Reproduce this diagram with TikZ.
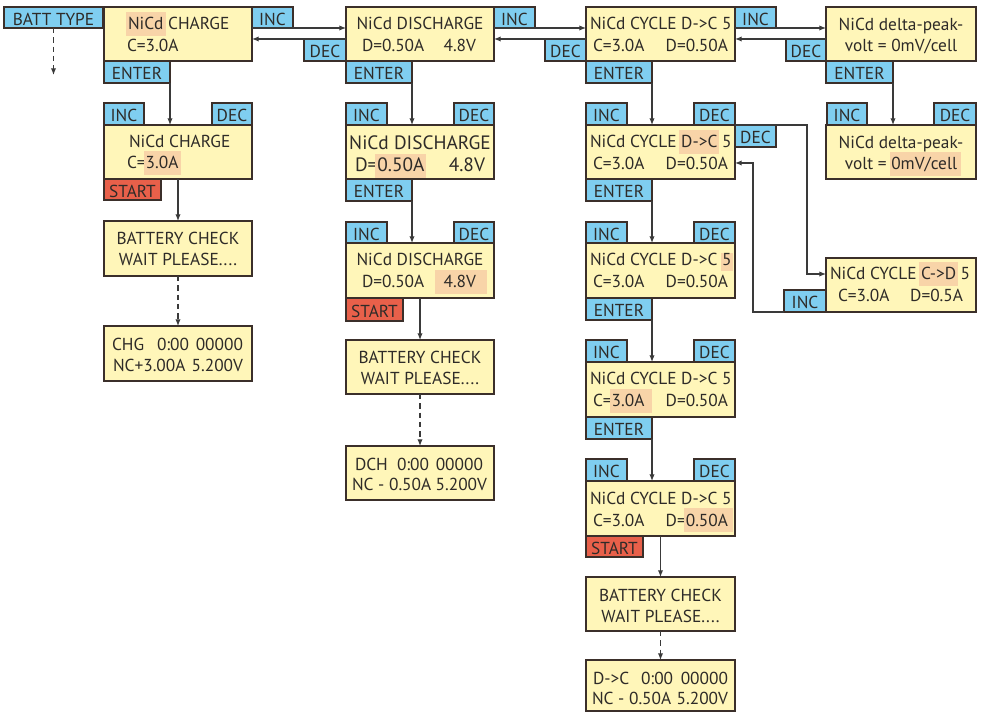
\documentclass[tikz,border=0pt]{standalone}
\usepackage{fontspec}
\setmainfont{PT Sans}
\usetikzlibrary{arrows.meta,calc}
\definecolor{boxfill}{HTML}{FFF6B9}
\definecolor{tabc}{HTML}{7FCEF0}
\definecolor{startc}{HTML}{E8604A}
\definecolor{hlc}{HTML}{F8D4A8}
\definecolor{bord}{HTML}{3B2F2A}
\definecolor{txtc}{HTML}{2E2B28}
\definecolor{linec}{HTML}{3A3A3A}
\newcommand\fs{\fontsize{13}{15}\selectfont}
\newcommand\fsb{\fontsize{14.5}{17}\selectfont}
\newcommand\hlx[3]{\kern-#1\relax{\setlength{\fboxsep}{0pt}\colorbox{hlc}{\rule[-4.5pt]{0pt}{18pt}\kern#1\relax #3\kern#2\relax}}\kern-#2\relax}
\newcommand\hls[1]{\kern-1pt{\setlength{\fboxsep}{0pt}\colorbox{hlc}{\rule[-3.5pt]{0pt}{13pt}\kern1pt #1\kern1pt}}\kern-1pt}
\tikzset{
  box/.style={draw=bord, fill=boxfill, line width=1pt, inner sep=0pt, outer sep=0pt},
  tab/.style={draw=bord, fill=tabc, line width=1pt, inner sep=0pt, outer sep=0pt, text=txtc, font=\fs, text height=11.5pt, text depth=0pt},
  startt/.style={tab, fill=startc},
  tl/.style={inner sep=0pt, outer sep=0pt, text=txtc, font=\fs, anchor=base west},
  tcn/.style={tl, anchor=base},
  tr/.style={tl, anchor=base east},
  conn/.style={draw=linec, line width=0.9pt, -{Latex[length=5pt,width=4pt]}},
  dconn/.style={conn, dash pattern=on 4pt off 3pt},
}
\newcommand\BX[5]{\node[box, anchor=north west, minimum width={(#4-#2)*0.75pt}, minimum height={(#5-#3)*0.75pt}] (#1) at (#2,#3) {};}
\newcommand\TB[7][tab]{\node[#1, anchor=north west, minimum width={(#5-#3)*0.75pt}, minimum height={(#6-#4)*0.75pt}] (#2) at (#3,#4) {#7};}
\newcommand\TL[4]{\node[tl] (#1) at (#2,#3) {#4};}
\newcommand\TC[4]{\node[tcn] (#1) at (#2,#3) {#4};}
\newcommand\TR[4]{\node[tr] (#1) at (#2,#3) {#4};}
\begin{document}
\begin{tikzpicture}[x=0.75pt,y=-0.75pt]
\useasboundingbox[fill=white] (0,0) rectangle (981,712);
% boxes
\BX{c1a}{104}{7}{252}{61}
\BX{c1b}{104}{125}{252}{179}
\BX{c1c}{104}{221}{252}{276}
\BX{c1d}{104}{326}{252}{381}
\BX{c2a}{346}{7}{494}{61}
\BX{c2b}{346}{125}{494}{179}
\BX{c2c}{346}{243}{494}{298}
\BX{c2d}{346}{340}{494}{394}
\BX{c2e}{346}{446}{494}{500}
\BX{c3a}{586}{7}{735}{61}
\BX{c3b}{586}{125}{735}{179}
\BX{c3c}{586}{243}{735}{298}
\BX{c3d}{586}{362}{735}{417}
\BX{c3e}{586}{481}{735}{536}
\BX{c3f}{586}{577}{735}{631}
\BX{c3g}{586}{660}{735}{711}
\BX{c4a}{826}{7}{976}{61}
\BX{c4b}{826}{125}{976}{179}
\BX{c4c}{826}{258}{976}{312}
% tabs
\TB{bt}{4}{7}{103}{28}{BATT TYPE}
\TB{i1}{252}{7}{293}{28}{INC}
\TB{i2}{494}{7}{535}{28}{INC}
\TB{i3}{735}{7}{776}{28}{INC}
\TB{d1}{304}{39}{346}{61}{DEC}
\TB{d2}{545}{39}{586}{61}{DEC}
\TB{d3}{786}{39}{826}{61}{DEC}
\TB{e1}{104}{61}{170}{83}{ENTER}
\TB{e2}{346}{61}{412}{83}{ENTER}
\TB{e2b}{346}{179}{412}{201}{ENTER}
\TB{e3}{586}{61}{652}{83}{ENTER}
\TB{e3b}{586}{179}{652}{201}{ENTER}
\TB{e3c}{586}{298}{652}{320}{ENTER}
\TB{e3d}{586}{417}{652}{439}{ENTER}
\TB{e4}{826}{61}{893}{83}{ENTER}
\TB{i1b}{104}{103}{144}{125}{INC}
\TB{d1b}{212}{103}{252}{125}{DEC}
\TB{i2b}{346}{103}{387}{125}{INC}
\TB{d2b}{454}{103}{494}{125}{DEC}
\TB{i2c}{346}{222}{387}{243}{INC}
\TB{d2c}{454}{222}{494}{243}{DEC}
\TB{i3b}{586}{103}{627}{125}{INC}
\TB{d3b}{694}{103}{735}{125}{DEC}
\TB{i3c}{586}{222}{627}{243}{INC}
\TB{d3c}{694}{222}{735}{243}{DEC}
\TB{i3d}{586}{340}{627}{362}{INC}
\TB{d3d}{694}{340}{735}{362}{DEC}
\TB{i3e}{586}{459}{627}{481}{INC}
\TB{d3e}{694}{459}{735}{481}{DEC}
\TB{i4b}{827}{103}{867}{125}{INC}
\TB{d4b}{934}{103}{976}{125}{DEC}
\TB{d3s}{735}{125}{776}{147}{DEC}
\TB{i4s}{784}{290}{826}{312}{INC}
\TB[startt]{s1}{104}{179}{161}{200}{START}
\TB[startt]{s2}{346}{298}{403}{321}{START}
\TB[startt]{s3}{586}{536}{643}{557}{START}
% texts column 1
\TL{t1a1}{128}{30}{\hlx{1.5pt}{1.5pt}{NiCd} CHARGE}
\TL{t1a2}{127}{52}{C=3.0A}
\TL{t1b1}{129}{148}{NiCd CHARGE}
\TL{t1b2}{127}{169}{C=\hlx{1pt}{2pt}{3.0A}}
\TC{t1c1}{178}{245}{BATTERY CHECK}
\TC{t1c2}{178}{266}{WAIT PLEASE....}
\TL{t1d1}{112}{351}{CHG}
\TL{t1d2}{157}{351}{0:00}
\TR{t1d3}{243}{351}{00000}
\TL{t1d4}{113}{372}{NC+3.00A}
\TR{t1d5}{243}{372}{5.200V}
% column 2
\TC{t2a1}{420}{30}{NiCd DISCHARGE}
\TL{t2a2}{362}{52}{D=0.50A}
\TR{t2a3}{476}{52}{4.8V}
\node[tcn, font=\fsb] (t2b1) at (420,150) {NiCd DISCHARGE};
\node[tl, font=\fsb] (t2b2) at (355,172) {D=\hlx{1.5pt}{1pt}{0.50A}};
\node[tr, font=\fsb] (t2b3) at (485,172) {4.8V};
\TC{t2c1}{420}{266}{NiCd DISCHARGE}
\TL{t2c2}{362}{288}{D=0.50A}
\TR{t2c3}{476}{288}{\hlx{6.5pt}{8pt}{4.8V}}
\TC{t2d1}{420}{364}{BATTERY CHECK}
\TC{t2d2}{420}{385}{WAIT PLEASE....}
\TL{t2e1}{355}{470}{DCH}
\TL{t2e2}{397}{470}{0:00}
\TR{t2e3}{483}{470}{00000}
\TL{t2e4}{352}{490}{NC - 0.50A}
\TR{t2e5}{487}{490}{5.200V}
% column 3
\TL{t3a1}{590}{30}{NiCd CYCLE D->C 5}
\TL{t3a2}{593}{52}{C=3.0A}
\TR{t3a3}{728}{52}{D=0.50A}
\TL{t3b1}{590}{148}{NiCd CYCLE \hlx{1.5pt}{1.5pt}{D->C} 5}
\TL{t3b2}{593}{170}{C=3.0A}
\TR{t3b3}{728}{170}{D=0.50A}
\TL{t3c1}{590}{266}{NiCd CYCLE D->C \hls{5}}
\TL{t3c2}{593}{288}{C=3.0A}
\TR{t3c3}{728}{288}{D=0.50A}
\TL{t3d1}{590}{385}{NiCd CYCLE D->C 5}
\TL{t3d2}{593}{407}{C=\hlx{1pt}{6pt}{3.0A}}
\TR{t3d3}{728}{407}{D=0.50A}
\TL{t3e1}{590}{504}{NiCd CYCLE D->C 5}
\TL{t3e2}{593}{526}{C=3.0A}
\TR{t3e3}{728}{526}{D=\hlx{1pt}{4pt}{0.50A}}
\TC{t3f1}{660.5}{601}{BATTERY CHECK}
\TC{t3f2}{660.5}{622}{WAIT PLEASE....}
\TL{t3g1}{593}{684}{D->C}
\TL{t3g2}{641}{684}{0:00}
\TR{t3g3}{728}{684}{00000}
\TL{t3g4}{592}{704}{NC - 0.50A}
\TR{t3g5}{728}{704}{5.200V}
% column 4
\TC{t4a1}{901}{31}{NiCd delta-peak-}
\TC{t4a2}{901}{52}{volt = 0mV/cell}
\TC{t4b1}{901}{149}{NiCd delta-peak-}
\TC{t4b2}{901}{170}{volt = \hlx{1pt}{3pt}{0mV/cell}}
\TL{t4c1}{830}{280}{NiCd CYCLE \hlx{1.5pt}{1.5pt}{C->D} 5}
\TL{t4c2}{838}{302}{C=3.0A}
\TR{t4c3}{963}{302}{D=0.5A}
% connectors
\coordinate (bte) at (53.5,75);
\draw[dconn] (bt.south) -- (bte);
\draw[conn] (c1a.east |- i1.south) -- (c2a.west |- i1.south);
\draw[conn] (c2a.west |- d1.north) -- (c1a.east |- d1.north);
\draw[conn] (c2a.east |- i2.south) -- (c3a.west |- i2.south);
\draw[conn] (c3a.west |- d2.north) -- (c2a.east |- d2.north);
\draw[conn] (c3a.east |- i3.south) -- (c4a.west |- i3.south);
\draw[conn] (c4a.west |- d3.north) -- (c3a.east |- d3.north);
\draw[conn] (e1.south east) -- (e1.south east |- c1b.north);
\draw[conn] (e2.south east) -- (e2.south east |- c2b.north);
\draw[conn] (e2b.south east) -- (e2b.south east |- c2c.north);
\draw[conn] (e3.south east) -- (e3.south east |- c3b.north);
\draw[conn] (e3b.south east) -- (e3b.south east |- c3c.north);
\draw[conn] (e3c.south east) -- (e3c.south east |- c3d.north);
\draw[conn] (e3d.south east) -- (e3d.south east |- c3e.north);
\draw[conn] (e4.south east) -- (e4.south east |- c4b.north);
\draw[conn] (c1b.south) -- (c1c.north);
\draw[dconn] (c1c.south) -- (c1d.north);
\draw[conn] (c2c.south) -- (c2d.north);
\draw[dconn] (c2d.south) -- (c2e.north);
\draw[conn] (c3e.south) -- (c3f.north);
\draw[dconn] (c3f.south) -- (c3g.north);
\draw[conn] (c3b.north east) -- ++(72,0) |- ($(c4c.west)+(0,-11)$);
\draw[conn] (i4s.south west) -- ++(-31,0) |- ($(c3b.east)+(0,11)$);
\end{tikzpicture}
\end{document}
